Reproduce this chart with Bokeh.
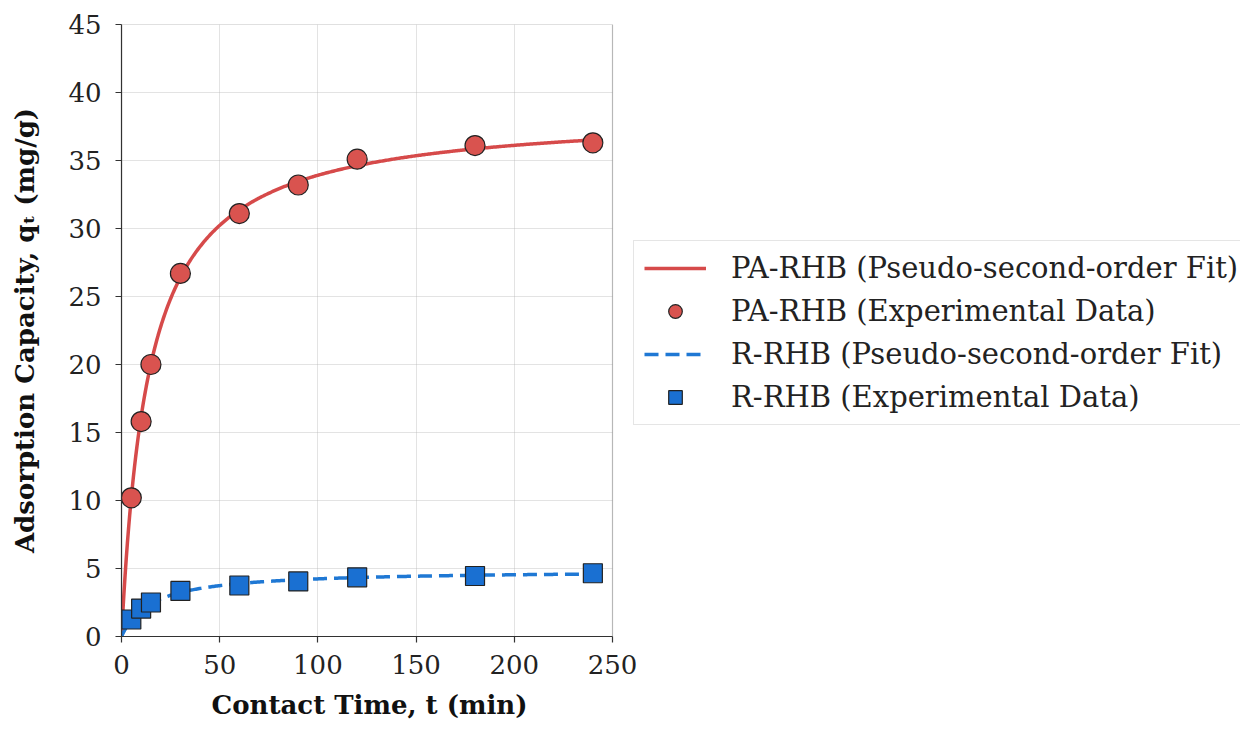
import numpy as np
from bokeh.plotting import figure
from bokeh.models import (Range1d, FixedTicker, Legend, LegendItem,
                          BoxAnnotation, Title)
from bokeh.embed import file_html
from bokeh.resources import INLINE

# ---- data ----
time_min = [5, 10, 15, 30, 60, 90, 120, 180, 240]
pa_rhb_q = [10.2, 15.8, 20.0, 26.7, 31.1, 33.2, 35.1, 36.1, 36.3]
r_rhb_q = [1.25, 2.05, 2.5, 3.35, 3.75, 4.05, 4.35, 4.45, 4.65]
x_ticks = [0, 50, 100, 150, 200, 250]
y_ticks = [0, 5, 10, 15, 20, 25, 30, 35, 40, 45]

FONT = "DejaVu Serif"
RED = "#d9534f"
RED_LINE = "#d64a4a"
BLUE = "#1a70d2"
BLUE_LINE = "#1f78d4"
SPINE = "#333333"

# layout: the axes box is 491 px wide; the frame continues to the right so
# that the legend (outside the axes) can sit inside the drawable frame.
LEFT, TOP, BOTTOM = 121, 24, 88
AX_W, AX_H = 491, 612
FRAME_W = 1240 - LEFT
X0, X1 = x_ticks[0], x_ticks[-1]
Y0, Y1 = y_ticks[0], y_ticks[-1]
x_end = X0 + (X1 - X0) * FRAME_W / AX_W


def pso_fit(t, q):
    # pseudo-second-order, linearised: t/q = 1/(k qe^2) + t/qe
    t = np.asarray(t, float)
    q = np.asarray(q, float)
    slope, intercept = np.polyfit(t, t / q, 1)
    qe = 1.0 / slope
    h = 1.0 / intercept
    tt = np.linspace(0, max(t), 400)
    return tt, h * tt / (1 + h * tt / qe)


t_pa, q_pa = pso_fit(time_min, pa_rhb_q)
t_r, q_r = pso_fit(time_min, r_rhb_q)

p = figure(
    frame_width=FRAME_W, frame_height=AX_H,
    min_border_left=LEFT, min_border_right=0,
    min_border_top=TOP, min_border_bottom=BOTTOM,
    x_range=Range1d(X0, x_end), y_range=Range1d(Y0, Y1),
    output_backend="svg", toolbar_location=None,
)
p.background_fill_color = "white"
p.border_fill_color = "white"
p.outline_line_color = None

for ax in (p.xaxis[0], p.yaxis[0]):
    ax.axis_line_color = SPINE
    ax.axis_line_width = 1.2
    ax.major_tick_line_color = SPINE
    ax.major_tick_line_width = 1.2
    ax.major_tick_out = 6
    ax.major_tick_in = 0
    ax.minor_tick_line_color = None
    ax.major_label_text_font = FONT
    ax.major_label_text_font_size = "26px"
    ax.major_label_text_color = "#222222"
    ax.axis_label_text_font = FONT
    ax.axis_label_text_font_size = "26px"
    ax.axis_label_text_font_style = "bold"
    ax.axis_label_text_color = "#111111"

p.xaxis.bounds = (X0, X1)
p.xaxis.ticker = FixedTicker(ticks=x_ticks)
p.yaxis.ticker = FixedTicker(ticks=y_ticks)
p.xaxis.major_label_standoff = 12
p.yaxis.major_label_standoff = 14
p.yaxis.axis_label = "Adsorption Capacity, q\u209c (mg/g)"
p.yaxis.axis_label_standoff = 25

# x-axis title centred under the axes box (not under the whole frame)
xlabel = Title(text="Contact Time, t (min)", align="left", offset=90,
               text_font=FONT, text_font_size="26px", text_font_style="bold",
               text_color="#111111", standoff=23)
p.add_layout(xlabel, "below")

p.xgrid.ticker = FixedTicker(ticks=x_ticks)
p.ygrid.ticker = FixedTicker(ticks=y_ticks)
for g in (p.xgrid[0], p.ygrid[0]):
    g.grid_line_color = "#b0b0b0"
    g.grid_line_alpha = 0.35
    g.grid_line_width = 1

# hide the grid outside the axes box, then draw the axes box (spines)
p.add_layout(BoxAnnotation(left=X1, fill_color="white", fill_alpha=1.0,
                           line_color=None, level="underlay"))
p.add_layout(BoxAnnotation(left=X0, right=X1, bottom=Y0, top=Y1,
                           fill_alpha=0, line_color=SPINE, line_width=1.2,
                           level="guide"))

r1 = p.line(t_pa, q_pa, line_color=RED_LINE, line_width=3.5)
r2 = p.scatter(time_min, pa_rhb_q, marker="circle", size=20,
               fill_color=RED, line_color="#222222", line_width=1.2)
r3 = p.line(t_r, q_r, line_color=BLUE_LINE, line_width=3.5, line_dash="14 7")
r4 = p.scatter(time_min, r_rhb_q, marker="square", size=19,
               fill_color=BLUE, line_color="#222222", line_width=1.2)

legend = Legend(
    items=[
        LegendItem(label="PA-RHB (Pseudo-second-order Fit)", renderers=[r1]),
        LegendItem(label="PA-RHB (Experimental Data)", renderers=[r2]),
        LegendItem(label="R-RHB (Pseudo-second-order Fit)", renderers=[r3]),
        LegendItem(label="R-RHB (Experimental Data)", renderers=[r4]),
    ],
    location=(AX_W + 21, 211),
    orientation="vertical",
    label_text_font=FONT,
    label_text_font_size="29px",
    label_text_color="#222222",
    glyph_width=62, glyph_height=34, label_height=34,
    label_standoff=25, spacing=9, padding=10, margin=0,
    border_line_color="#cccccc", border_line_width=1.2,
    background_fill_color="white", background_fill_alpha=0.9,
)
p.add_layout(legend, "center")

open("out.html", "w").write(file_html(p, INLINE))
